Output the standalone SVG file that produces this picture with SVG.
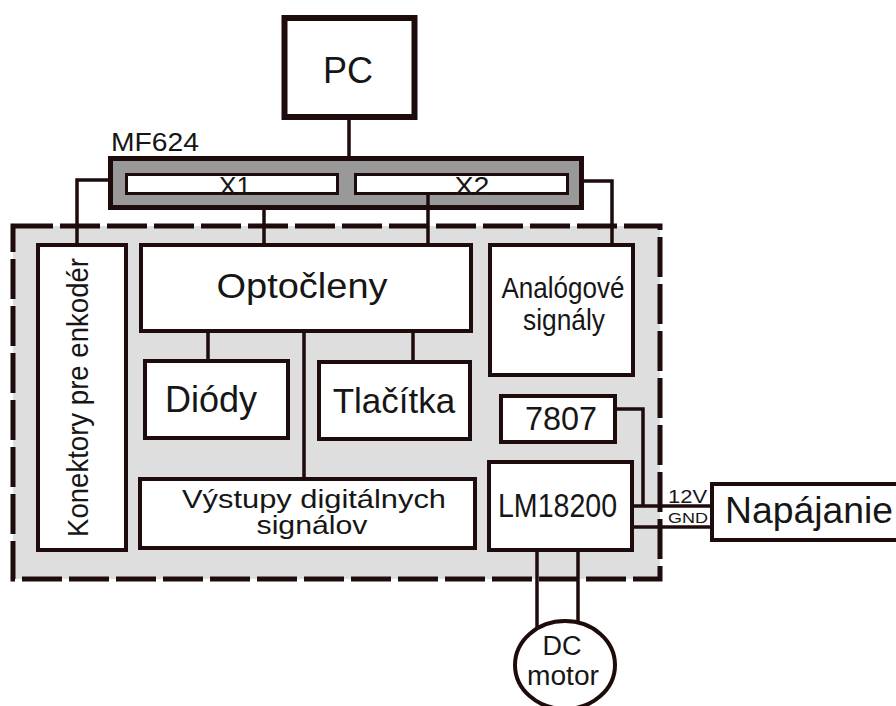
<svg xmlns="http://www.w3.org/2000/svg" width="896" height="706" viewBox="0 0 896 706">
<style>
text{font-family:"Liberation Sans",Arial,Helvetica,sans-serif;fill:#161616;}
.box{fill:#fff;stroke:#1e0b0b;stroke-width:4;}
.ln{fill:none;stroke:#1e0b0b;stroke-width:3.5;}
.m{text-anchor:middle;}
</style>
<rect width="896" height="706" fill="#fff"/>
<g id="board">
<rect x="13" y="226" width="647" height="353" fill="#dedede" stroke="#1e0b0b" stroke-width="5" stroke-dasharray="40 7"/>
</g>
<g id="pc">
<rect x="284.5" y="18" width="130" height="99" fill="#fff" stroke="#1e0b0b" stroke-width="6"/>
<text class="m" x="348" y="83" font-size="36">PC</text>
</g>
<g id="mf624">
<text x="111" y="151" font-size="25" textLength="88" lengthAdjust="spacingAndGlyphs">MF624</text>
<rect x="110.5" y="158.5" width="471" height="49" fill="#999" stroke="#1e0b0b" stroke-width="5"/>
<rect x="126.5" y="174.5" width="211" height="19" fill="#fff" stroke="#1e0b0b" stroke-width="3"/>
<rect x="355.5" y="174.5" width="212" height="19" fill="#fff" stroke="#1e0b0b" stroke-width="3"/>
<text class="m" x="235" y="195" font-size="25" textLength="32" lengthAdjust="spacingAndGlyphs">X1</text>
<text class="m" x="472" y="195" font-size="25" textLength="35" lengthAdjust="spacingAndGlyphs">X2</text>
</g>
<g id="connectors">
<path class="ln" d="M349,120 V156"/>
<path class="ln" d="M108,180 H77 V245"/>
<path class="ln" d="M584,181 H612 V245"/>
<path class="ln" d="M264,209 V245"/>
<path class="ln" d="M428,194 V245"/>
<path class="ln" d="M208,333 V361"/>
<path class="ln" d="M413,333 V362"/>
<path class="ln" d="M304,333 V479"/>
<path class="ln" d="M617,409 H643 V506"/>
<path class="ln" d="M632,506 H712"/>
<path class="ln" d="M632,527 H712"/>
<path class="ln" d="M537,550 V629"/>
<path class="ln" d="M578,550 V623"/>
</g>
<g id="konektory">
<rect class="box" x="38" y="245" width="88" height="305"/>
<text class="m" transform="translate(88,397.5) rotate(-90)" font-size="29" textLength="279" lengthAdjust="spacingAndGlyphs">Konektory pre enkodér</text>
</g>
<g id="optocleny">
<rect class="box" x="141" y="245" width="330" height="86"/>
<text class="m" x="302" y="298" font-size="35" textLength="171" lengthAdjust="spacingAndGlyphs">Optočleny</text>
</g>
<g id="diody">
<rect class="box" x="145" y="361" width="143" height="77"/>
<text class="m" x="211" y="412" font-size="36">Diódy</text>
</g>
<g id="tlacitka">
<rect class="box" x="319" y="362" width="151" height="77"/>
<text class="m" x="394" y="413" font-size="35">Tlačítka</text>
</g>
<g id="vystupy">
<rect class="box" x="140" y="479" width="335" height="69"/>
<text class="m" x="314" y="508" font-size="25" textLength="264" lengthAdjust="spacingAndGlyphs">Výstupy digitálnych</text>
<text class="m" x="312" y="534" font-size="25" textLength="111" lengthAdjust="spacingAndGlyphs">signálov</text>
</g>
<g id="analogove">
<rect class="box" x="490" y="245" width="143" height="130"/>
<text class="m" x="563" y="298" font-size="30" textLength="123" lengthAdjust="spacingAndGlyphs">Analógové</text>
<text class="m" x="564" y="330" font-size="30" textLength="82" lengthAdjust="spacingAndGlyphs">signály</text>
</g>
<g id="reg7807">
<rect class="box" x="501" y="396" width="114" height="46"/>
<text class="m" x="561" y="430" font-size="33" textLength="72" lengthAdjust="spacingAndGlyphs">7807</text>
</g>
<g id="lm18200">
<rect class="box" x="489" y="462" width="143" height="88"/>
<text class="m" x="557.5" y="517" font-size="33" textLength="119" lengthAdjust="spacingAndGlyphs">LM18200</text>
</g>
<g id="labels">
<text x="668" y="503" font-size="18" textLength="39" lengthAdjust="spacingAndGlyphs">12V</text>
<text x="668" y="523" font-size="15" textLength="40" lengthAdjust="spacingAndGlyphs">GND</text>
</g>
<g id="napajanie">
<rect class="box" x="712" y="484" width="200" height="56"/>
<text x="725" y="523" font-size="36" textLength="168" lengthAdjust="spacingAndGlyphs">Napájanie</text>
</g>
<g id="dcmotor">
<ellipse cx="565" cy="665" rx="50" ry="44" fill="#fff" stroke="#1e0b0b" stroke-width="4"/>
<text class="m" x="562" y="655" font-size="27">DC</text>
<text class="m" x="563" y="685" font-size="27" textLength="72" lengthAdjust="spacingAndGlyphs">motor</text>
</g>
</svg>
